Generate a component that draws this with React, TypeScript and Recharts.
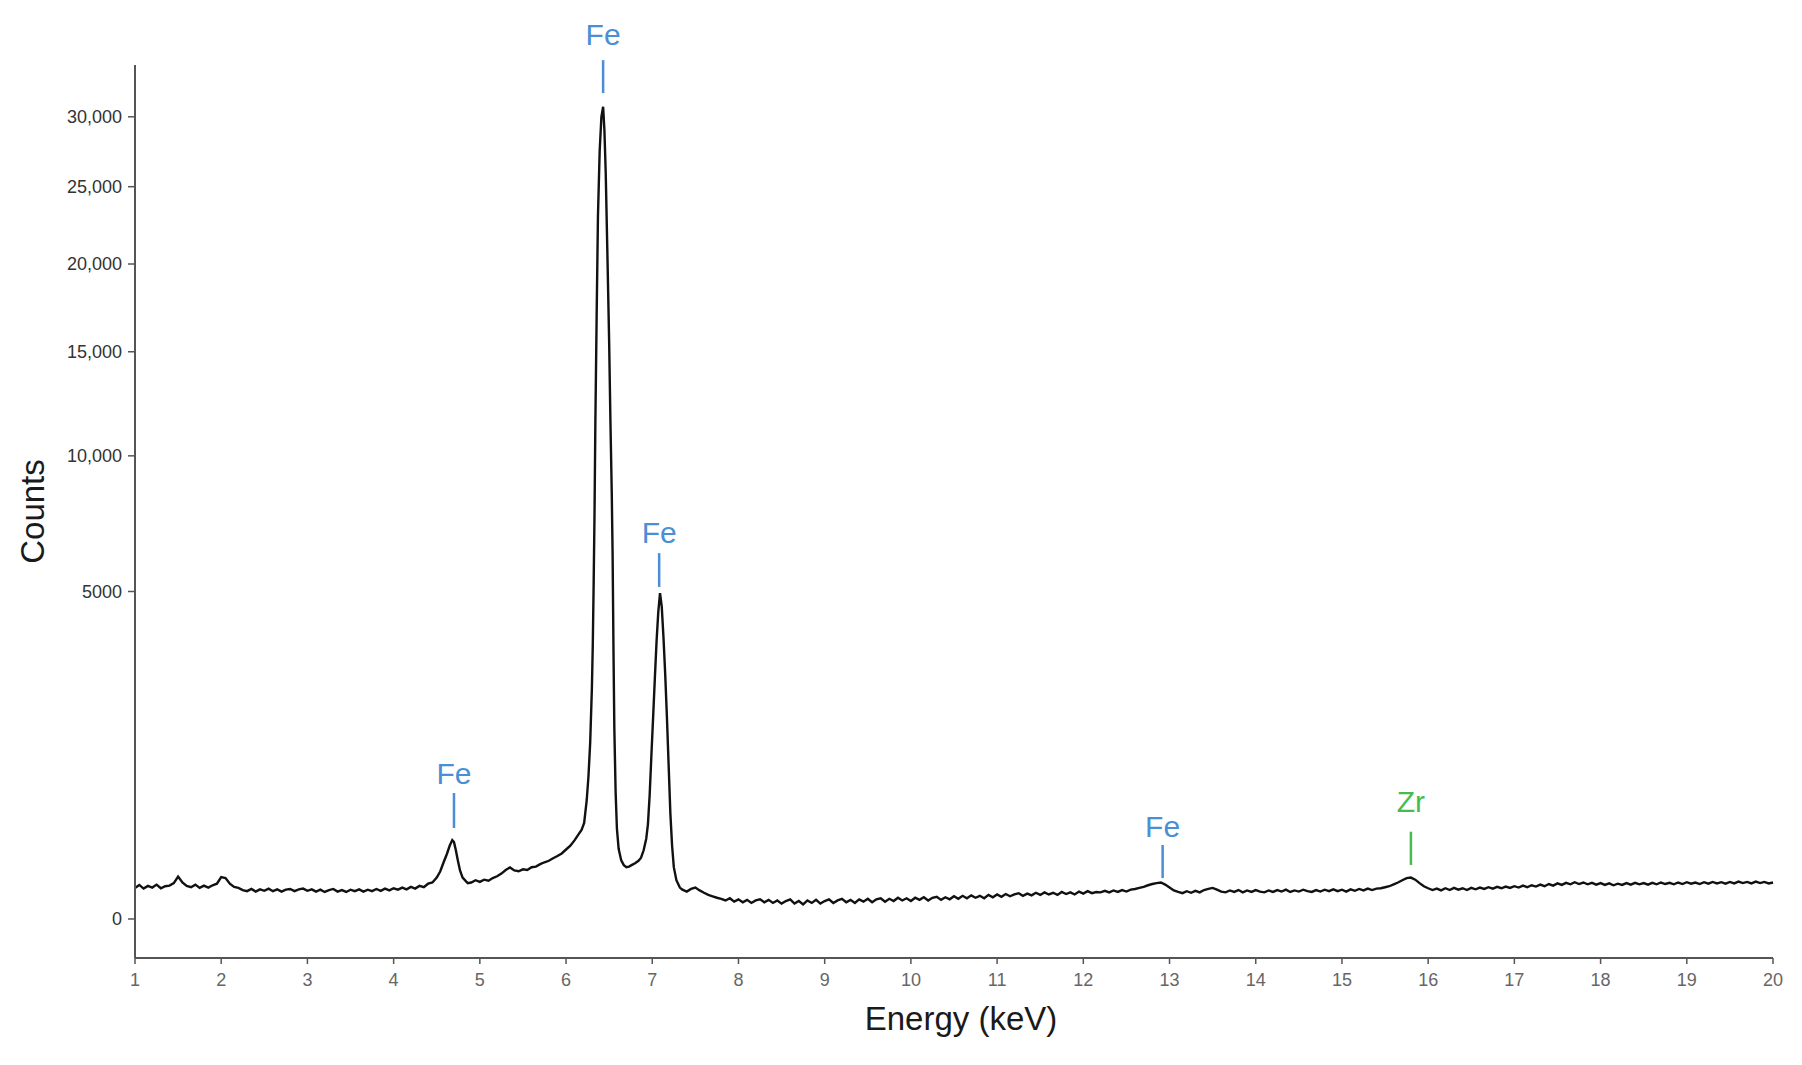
import { Label, Line, LineChart, ReferenceLine, XAxis, YAxis } from "recharts";

type Pt = { e: number; c: number };

// spectrum, read off the figure. Flat parts are sampled on a 0.05 keV grid,
// peaks are listed as explicit [keV, counts] pairs
const STEP = 0.05;

const lowStart = 1.0;
const lowCounts = [
  45, 54, 43, 51, 46, 55, 44, 50, 52, 60,
  84, 62, 51, 47, 55, 45, 52, 46, 53, 58,
  82, 78, 58, 48, 45, 39, 36, 42, 35, 41,
  37, 43, 36, 41, 35, 40, 42, 36, 41, 43,
  37, 41, 35, 40, 34, 39, 42, 35, 39, 34,
  40, 36, 41, 35, 40, 36, 42, 37, 43, 38,
  44, 40, 46, 41, 48, 43, 51, 47, 58, 62,
];

const escapePeak: [number, number][] = [
  [4.5, 80], [4.54, 105], [4.58, 150], [4.62, 200], [4.65, 250], [4.68, 290],
  [4.7, 275], [4.72, 225], [4.745, 160], [4.77, 110], [4.8, 80], [4.84, 66], [4.86, 60],
];

const shoulderStart = 4.9;
const shoulderCounts = [
  62, 70, 64, 72, 68, 78, 85, 96, 112, 124,
  110, 106, 115, 112, 125, 128, 140, 150, 158, 172,
  185, 200, 225, 250, 290, 340,
];

const kPeaks: [number, number][] = [
  [6.18, 370], [6.21, 430], [6.24, 660], [6.26, 950], [6.28, 1450], [6.3, 2500],
  [6.31, 3500], [6.32, 5200], [6.33, 7600], [6.34, 11500], [6.355, 17000], [6.37, 23000],
  [6.39, 27500], [6.41, 30000], [6.43, 30760], [6.445, 29000], [6.46, 26000], [6.48, 20500],
  [6.5, 15500], [6.515, 11500], [6.53, 8500], [6.54, 6200], [6.55, 3400], [6.56, 1700],
  [6.575, 750], [6.59, 380], [6.61, 230], [6.64, 160], [6.67, 135], [6.7, 125],
  [6.73, 128], [6.76, 135], [6.8, 145], [6.84, 158], [6.87, 175], [6.9, 220],
  [6.93, 300], [6.95, 420], [6.97, 720], [6.99, 1250], [7.01, 1900], [7.03, 2700],
  [7.05, 3600], [7.07, 4400], [7.09, 4950], [7.11, 4550], [7.13, 3700], [7.15, 2800],
  [7.17, 1900], [7.19, 1100], [7.21, 520], [7.23, 250], [7.25, 125], [7.28, 70], [7.32, 46],
];

const midStart = 7.35;
const midCounts = [
  40, 35, 42, 46, 38, 32, 27, 24, 21, 19,
  16, 20, 14, 18, 13, 17, 12, 16, 18, 13,
  17, 12, 16, 11, 15, 18, 11, 15, 10, 16,
  12, 17, 11, 15, 18, 12, 16, 19, 13, 17,
  12, 18, 14, 19, 13, 18, 20, 14, 19, 15,
  21, 16, 20, 15, 21, 17, 22, 16, 21, 23,
  17, 22, 18, 24, 19, 25, 20, 26, 21, 25,
  20, 27, 22, 28, 23, 29, 24, 28, 31, 25,
  30, 26, 32, 27, 33, 28, 32, 27, 34, 29,
  33, 28, 35, 30, 36, 31, 34,
];

const highStart = 12.2;
const highCounts = [
  33, 37, 33, 38, 34, 39, 35, 40, 42, 45,
  48, 53, 57, 60, 62, 55, 46, 38, 34, 31,
  36, 32, 37, 33, 39, 42, 45, 40, 35, 33,
  38, 34, 39, 33, 38, 34, 39, 35, 33, 38,
  34, 39, 35, 40, 34, 38, 35, 40, 36, 34,
  39, 35, 40, 36, 41, 36, 40, 35, 41, 37,
  42, 38, 43, 39, 43, 44, 47, 50, 56, 62,
  70, 78, 80, 72, 60, 50, 44, 39, 43, 38,
  44, 39, 45, 40, 44, 39, 45, 41, 46, 42,
  47, 43, 48, 44, 49, 45, 50, 46, 52, 47,
  53, 49, 55, 50, 57, 52, 59, 54, 61, 56,
  63, 57, 62, 56, 61, 55, 60, 54, 59, 53,
  58, 54, 60, 55, 61, 56, 60, 55, 61, 56,
  62, 57, 61, 56, 62, 57, 63, 58, 62, 57,
  63, 58, 64, 59, 63, 58, 64, 59, 65, 60,
  64, 59, 65, 60, 64, 59, 62,
];

// peak markers
const markElement = ["Fe", "Fe", "Fe", "Fe", "Zr"];
const markEnergy = [4.7, 6.43, 7.08, 12.92, 15.8];
const markLow = [386, 31800, 5140, 78, 136];
const markHigh = [740, 34390, 6240, 255, 355];

const X_TICKS = [1, 2, 3, 4, 5, 6, 7, 8, 9, 10, 11, 12, 13, 14, 15, 16, 17, 18, 19, 20];
const Y_TICKS = [0, 5000, 10000, 15000, 20000, 25000, 30000];

const ELEMENT_COLOR: Record<string, string> = { Fe: "#4a8fd6", Zr: "#46bb50" };
// gap between each marker tick and its element name
const LABEL_GAP = [9, 15, 10, 8, 20];

const grid = (start: number, counts: number[]): Pt[] =>
  counts.map((c, i) => ({ e: +(start + i * STEP).toFixed(3), c }));
const pairs = (list: [number, number][]): Pt[] => list.map(([e, c]) => ({ e, c }));

const spectrum: Pt[] = [
  ...grid(lowStart, lowCounts),
  ...pairs(escapePeak),
  ...grid(shoulderStart, shoulderCounts),
  ...pairs(kPeaks),
  ...grid(midStart, midCounts),
  ...grid(highStart, highCounts),
];

const fmtCount = (v: number) => (v >= 10000 ? v.toLocaleString("en-US") : String(v));

export default function App() {
  return (
    <div
      style={{
        position: "absolute",
        left: 0,
        top: 0,
        width: 1802,
        height: 1065,
        background: "#fff",
        fontFamily: "'Liberation Sans', Arial, sans-serif",
      }}
    >
      <LineChart width={1802} height={1065} data={spectrum} margin={{ top: 65, right: 29, bottom: 27, left: 0 }}>
        <XAxis
          dataKey="e"
          type="number"
          domain={[1, 20]}
          ticks={X_TICKS}
          interval={0}
          height={80}
          tickSize={6}
          tickMargin={9}
          tick={{ fill: "#666", fontSize: 18 }}
          axisLine={{ stroke: "#555", strokeWidth: 2 }}
          tickLine={{ stroke: "#555", strokeWidth: 1.5 }}
        >
          <Label value="Energy (keV)" position="insideBottom" offset={8} dx={7} fontSize={33} fill="#1a1a1a" />
        </XAxis>
        <YAxis
          type="number"
          scale="sqrt"
          domain={[-71, 34000]}
          ticks={Y_TICKS}
          interval={0}
          width={135}
          tickSize={7}
          tickMargin={6}
          tickFormatter={fmtCount}
          tick={{ fill: "#333", fontSize: 18 }}
          axisLine={{ stroke: "#555", strokeWidth: 2 }}
          tickLine={{ stroke: "#555", strokeWidth: 1.5 }}
        >
          <Label value="Counts" angle={-90} position="center" dx={-35} fontSize={33} fill="#1a1a1a" />
        </YAxis>
        <Line
          dataKey="c"
          type="linear"
          stroke="#111"
          strokeWidth={2.4}
          dot={false}
          isAnimationActive={false}
        />
        {markEnergy.map((e, i) => (
          <ReferenceLine
            key={i}
            segment={[
              { x: e, y: markLow[i] },
              { x: e, y: markHigh[i] },
            ]}
            stroke={ELEMENT_COLOR[markElement[i]]}
            strokeWidth={2.5}
            ifOverflow="visible"
            label={{
              value: markElement[i],
              position: "top",
              offset: LABEL_GAP[i],
              fill: ELEMENT_COLOR[markElement[i]],
              fontSize: 30,
            }}
          />
        ))}
      </LineChart>
    </div>
  );
}
